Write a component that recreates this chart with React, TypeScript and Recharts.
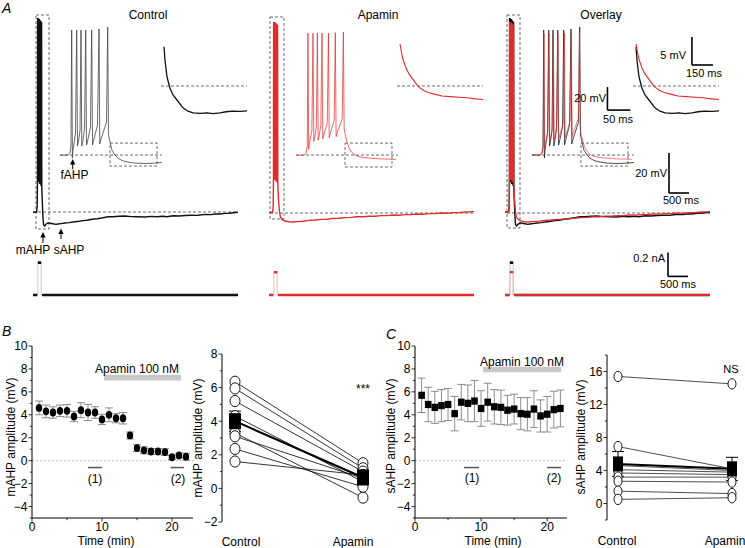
import React from 'react';
import {
  LineChart, Line, XAxis, YAxis, ReferenceLine, ReferenceArea, ReferenceDot,
  ScatterChart, Scatter, ErrorBar,
} from 'recharts';

type Pt = [number, number];

const FONT = "'Liberation Sans', Arial, Helvetica, sans-serif";
const RED = '#e32b2b';
const INK = '#111';
const DASH = '#444';

// ---------------- Panel A data (time in ms, membrane potential in mV) ----------------
const columnTitles = ['Control', 'Apamin', 'Overlay'];

const controlMainTrace: Pt[] = [
  [0, -65], [40, -65.2], [90, -65], [105, -62], [112, -48], [115, 32], [120, -50], [127, -46], [130, 32],
  [135, -50], [142, -46], [145, 31.5], [150, -50], [157, -45], [160, 31.5], [165, -51], [172, -45], [175, 31],
  [180, -51], [190, -44], [195, 30.5], [200, -52], [210, -43], [215, 30], [220, -53], [235, -61], [250, -68],
  [265, -71.5], [290, -72], [330, -71], [380, -70.4], [425, -70.65], [500, -70.9], [570, -71.2], [625, -71],
  [700, -70.8], [800, -70.5], [900, -70.3], [1050, -69.85], [1150, -69.6], [1250, -69.3], [1350, -69.1],
  [1475, -68.65], [1600, -68.4], [1750, -67.9], [1875, -67.35], [2000, -67.4], [2150, -67.1], [2300, -67],
  [2450, -67.3], [2600, -67.4], [2800, -67.5], [2950, -67.2], [3100, -67.4], [3250, -67.1], [3350, -67.35],
  [3500, -66.9], [3650, -67], [3800, -66.75], [3950, -66.6], [4100, -66.7], [4175, -66.5], [4300, -66.2],
  [4450, -66.3], [4550, -66], [4675, -66], [4800, -65.7], [4900, -65.6], [5000, -65.4], [5125, -65.15],
];

const apaminMainTrace: Pt[] = [
  [0, -65.3], [40, -65.1], [90, -65.2], [105, -62], [112, -48], [115, 30], [120, -49], [127, -45], [130, 30],
  [135, -49], [142, -45], [145, 30], [150, -49], [157, -44], [160, 29.5], [165, -49], [172, -44], [175, 29.5],
  [180, -50], [190, -43], [195, 29], [200, -50], [210, -42], [215, 28.5], [220, -50], [235, -58], [260, -64.5],
  [285, -67.5], [330, -68.8], [400, -69.5], [500, -69.9], [600, -70], [700, -69.8], [850, -69.6], [1000, -69.2],
  [1150, -69], [1300, -68.7], [1450, -68.6], [1600, -68.2], [1750, -68.1], [1900, -67.8], [2050, -67.7],
  [2200, -67.4], [2350, -67.4], [2500, -67.1], [2650, -67.1], [2800, -66.8], [2950, -66.8], [3100, -66.5],
  [3250, -66.6], [3400, -66.3], [3550, -66.3], [3700, -66], [3850, -66.1], [4000, -65.8], [4150, -65.8],
  [4300, -65.5], [4450, -65.6], [4600, -65.3], [4750, -65.3], [4900, -65], [5050, -64.9], [5125, -64.8],
];

const controlInsetTrace: Pt[] = [
  [0, -65], [17.4, -65], [21.7, -63.3], [23.9, -57.2], [25.4, 43.7], [27, -67.6], [28.3, -60.7], [33.7, -45.9],
  [36.3, 43.7], [38, -57.2], [39.6, -54.6], [43.5, -44.1], [45.7, 43.7], [47.4, -57.2], [48.9, -54.6],
  [53.3, -42.4], [55.9, 43.7], [57.6, -56.3], [59.1, -54.6], [66.3, -40.7], [68.9, 43.7], [70.7, -56.3],
  [72.2, -53.7], [81.5, -38.9], [84.8, 44.6], [86.5, -55.4], [88, -52.8], [101.1, -36.3], [103.7, 46.3],
  [105.4, -47.6], [108.7, -53.7], [113, -60.7], [119.6, -65], [126.1, -67.6], [134.8, -69.8], [147.8, -71.1],
  [163, -72], [184.8, -72.4], [206.5, -72], [221.7, -71.5],
];

const apaminInsetTrace: Pt[] = [
  [0, -65], [17, -65.2], [22, -63.5], [24.5, -57], [26, 41], [27.6, -60], [29, -55], [34.5, -44], [37, 41],
  [38.7, -53], [40.3, -50.5], [44.2, -41], [46.5, 41], [48.2, -52], [49.7, -49.5], [54, -39], [56.5, 41],
  [58.2, -51], [59.7, -48.5], [68, -37], [70.5, 41], [72.2, -50], [73.7, -47.5], [83, -35], [85.5, 41.5],
  [87.2, -49], [88.7, -46.5], [100.5, -33.5], [103, 42], [104.7, -42], [107, -47], [111, -54], [116, -59.5],
  [122, -63], [130, -65.5], [142, -66.8], [158, -67.6], [178, -68.2], [200, -68.5], [217, -68.8],
];

const controlZoomTrace: Pt[] = [
  [21.4, -58], [28.6, -60.4], [42.9, -63.4], [64.3, -65.4], [85.7, -66.6], [114, -67.5], [157, -68.9],
  [193, -69.5], [229, -69.8], [279, -69.9], [329, -69.8], [371, -69.95], [421, -69.8], [464, -69.6],
  [514, -69.5], [564, -69.55], [614, -69.45],
];

const apaminZoomTrace: Pt[] = [
  [21.4, -57.5], [40, -60], [64, -61.8], [85, -62.8], [107, -63.6], [130, -64.4], [157, -65.2], [190, -65.8],
  [229, -66.2], [275, -66.5], [321, -66.8], [380, -66.9], [443, -67.0], [500, -67.1], [560, -67.3], [614, -67.4],
];

// injected current step (nA)
const controlStepAmp = 0.27;
const apaminStepAmp = 0.19;
const stepOnMs = 122;
const stepOffMs = 205;
const traceEndMs = 5125;
const restMv = -65;

// scale bars
const scaleMainMv = 20, scaleMainMs = 500;
const scaleInsetMv = 20, scaleInsetMs = 50;
const scaleZoomMv = 5, scaleZoomMs = 150;
const scaleCurrentNa = 0.2, scaleCurrentMs = 500;

// ---------------- Panel B / C data ----------------
const timeMin = [1, 2, 3, 4, 5, 6, 7, 8, 9, 10, 11, 12, 13, 14, 15, 16, 17, 18, 19, 20, 21, 22];
const mahpMean = [4.6, 4.3, 4.2, 4.35, 4.35, 3.85, 4.4, 4.2, 4.2, 3.6, 4.0, 3.7, 3.7, 2.2, 1.1, 0.9, 0.8, 0.8, 0.75, 0.3, 0.45, 0.35];
const mahpSem = [0.6, 0.55, 0.5, 0.5, 0.55, 0.45, 0.65, 0.7, 0.5, 0.45, 0.6, 0.4, 0.5, 0.3, 0.3, 0.3, 0.25, 0.25, 0.3, 0.2, 0.2, 0.3];
const sahpMean = [5.7, 4.9, 4.65, 4.8, 4.9, 4.1, 5.1, 5.0, 5.2, 4.55, 5.1, 4.7, 4.65, 4.4, 4.5, 4.1, 4.05, 4.5, 3.9, 4.05, 4.45, 4.55];
const sahpSem = [1.5, 1.5, 1.4, 1.4, 1.4, 1.5, 1.55, 1.6, 1.8, 1.55, 1.65, 1.5, 1.5, 1.3, 1.3, 1.4, 1.45, 1.6, 1.4, 1.55, 1.6, 1.6];

const conditionLabels = ['Control', 'Apamin'];
const mahpControl = [6.35, 5.95, 5.2, 4.3, 3.3, 3.1, 2.35, 1.6];
const mahpApamin = [1.5, 1.2, 1.0, 0.4, -0.55, 0.6, 0.1, 0.8];
const mahpPairMean = [4.0, 0.65];
const mahpPairSem = [0.6, 0.3];
const sahpControl = [15.4, 6.9, 4.6, 4.1, 3.7, 3.2, 2.7, 1.5, 0.5];
const sahpApamin = [14.5, 4.2, 4.0, 3.8, 3.5, 3.2, 2.6, 1.2, 0.7];
const sahpPairMean = [4.8, 4.2];
const sahpPairSem = [1.5, 1.4];

const apaminWindowB = [10.3, 21.3];
const apaminWindowC = [10.3, 22.1];
const epochOneB = [8, 10], epochTwoB = [19.8, 21.7];
const epochOneC = [7.4, 9.7], epochTwoC = [20, 22.1];

// ---------------- helpers ----------------
const toPts = (a: Pt[]) => a.map(([t, v]) => ({ t, v }));
const fmt = (v: number) => (v < 0 ? '\u2212' + Math.abs(v) : String(v));

function Txt({ x, y, children, anchor = 'middle', size = 12, italic = false, rotate = false }: any) {
  const tx = anchor === 'middle' ? '-50%' : anchor === 'end' ? '-100%' : '0';
  return (
    <div style={{
      position: 'absolute', left: x, top: y, transform: `translate(${tx}, -50%)${rotate ? ' rotate(-90deg)' : ''}`,
      fontSize: size, fontFamily: FONT, fontStyle: italic ? 'italic' : 'normal', whiteSpace: 'nowrap', lineHeight: 1, color: '#000',
    }}>{children}</div>
  );
}

function TraceBox({ left, top, width, height, x, y, children }: any) {
  return (
    <div style={{ position: 'absolute', left, top, width, height }}>
      <LineChart width={width} height={height} margin={{ top: 0, right: 0, bottom: 0, left: 0 }}>
        <XAxis type="number" dataKey="t" domain={x} hide allowDataOverflow />
        <YAxis type="number" dataKey="v" domain={y} hide allowDataOverflow />
        {children}
      </LineChart>
    </div>
  );
}

const ArrowHead = (p: any) => (
  <path d={`M${p.cx} ${p.cy} L${p.cx - 2.6} ${p.cy + 5.5} L${p.cx + 2.6} ${p.cy + 5.5} Z`} fill="#000" />
);

const lineProps = { dot: false, isAnimationActive: false, type: 'linear' as const, activeDot: false };
const dashProps = { stroke: DASH, strokeDasharray: '3 2', strokeWidth: 0.8 };
const barProps = { stroke: '#000', strokeWidth: 1.6 };

function currentThin(amp: number) {
  return [
    { t: 0, v: 0 }, { t: stepOnMs, v: 0 }, { t: stepOnMs, v: amp }, { t: stepOffMs, v: amp },
    { t: stepOffMs, v: 0 }, { t: traceEndMs, v: 0 },
  ];
}
function currentThick(amp: number) {
  return [
    { t: 0, v: 0 }, { t: stepOnMs - 12, v: 0 }, { t: stepOnMs - 6, v: null }, { t: stepOnMs, v: amp },
    { t: stepOffMs, v: amp }, { t: stepOffMs + 6, v: null }, { t: stepOffMs + 20, v: 0 }, { t: traceEndMs, v: 0 },
  ];
}

const columns = [
  { dx: 0, c: true, a: false, mainBox: [75, 400, -73.5, 33.5], inBox: [108.7, 210.9, -74.6, -54.6], base: [0, 5125, -65] },
  { dx: 236, c: false, a: true, mainBox: [25, 375, -68.5, 32.5], inBox: [106.5, 208.7, -75.4, -54.6], base: [25, 5150, -65.5] },
  { dx: 472, c: true, a: true, mainBox: [50, 375, -73, 33.5], inBox: [106.5, 208.7, -74.6, -54.6], base: [50, 5125, -65.5] },
];

function AColumn({ col, idx }: any) {
  const { dx, c, a, mainBox, inBox, base } = col;
  const ov = idx === 2;
  const isCtrl = idx === 0;
  return (
    <>
      {/* main trace */}
      <TraceBox left={33 + dx} top={8} width={210} height={237} x={[0, 5250]} y={[-81.5, 37]}>
        <ReferenceLine segment={[{ x: base[0], y: base[2] }, { x: base[1], y: base[2] }]} {...dashProps} />
        <ReferenceArea x1={mainBox[0]} x2={mainBox[1]} y1={mainBox[2]} y2={mainBox[3]} fill="none" fillOpacity={0} {...dashProps} />
        {c && <Line data={toPts(controlMainTrace)} dataKey="v" stroke={INK} strokeWidth={1.4} {...lineProps} />}
        {a && <Line data={toPts(apaminMainTrace)} dataKey="v" stroke={RED} strokeWidth={ov ? 1.3 : 1.4} {...lineProps} />}
        {isCtrl && <ReferenceLine segment={[{ x: 250, y: -77 }, { x: 250, y: -80.5 }]} stroke="#000" strokeWidth={1} />}
        {isCtrl && <ReferenceDot x={250} y={-75} r={3} shape={ArrowHead} />}
        {isCtrl && <ReferenceLine segment={[{ x: 700, y: -75.5 }, { x: 700, y: -78.5 }]} stroke="#000" strokeWidth={1} />}
        {isCtrl && <ReferenceDot x={700} y={-73.2} r={3} shape={ArrowHead} />}
        {ov && <ReferenceLine segment={[{ x: 4100, y: -55.5 }, { x: 4100, y: -55.5 + scaleMainMv }]} {...barProps} />}
        {ov && <ReferenceLine segment={[{ x: 4100, y: -55.5 }, { x: 4100 + scaleMainMs, y: -55.5 }]} {...barProps} />}
      </TraceBox>

      {/* current */}
      <TraceBox left={33 + dx} top={246.5} width={210} height={54} x={[0, 5250]} y={[-0.05, 0.4]}>
        {c && <Line data={currentThin(controlStepAmp)} dataKey="v" stroke="#bbb" strokeWidth={0.8} {...lineProps} />}
        {a && <Line data={currentThin(apaminStepAmp)} dataKey="v" stroke="#f2a6a6" strokeWidth={0.8} {...lineProps} />}
        {c && <Line data={currentThick(controlStepAmp)} dataKey="v" stroke={INK} strokeWidth={2.6} {...lineProps} />}
        {a && <Line data={currentThick(apaminStepAmp)} dataKey="v" stroke={RED} strokeWidth={ov ? 2.2 : 2.6} {...lineProps} />}
        {ov && <ReferenceLine segment={[{ x: 4075, y: 0.155 }, { x: 4075, y: 0.155 + scaleCurrentNa }]} {...barProps} />}
        {ov && <ReferenceLine segment={[{ x: 4075, y: 0.155 }, { x: 4075 + scaleCurrentMs, y: 0.155 }]} {...barProps} />}
      </TraceBox>

      {/* inset: spike train */}
      <TraceBox left={60 + dx} top={25} width={104} height={145} x={[0, 226.1]} y={[-78, 48.1]}>
        <ReferenceLine segment={[{ x: 0, y: restMv }, { x: 221.7, y: restMv }]} {...dashProps} />
        <ReferenceArea x1={inBox[0]} x2={inBox[1]} y1={inBox[2]} y2={inBox[3]} fill="none" fillOpacity={0} {...dashProps} />
        {c && <Line data={toPts(controlInsetTrace)} dataKey="v" stroke={ov ? '#222' : '#444'} strokeWidth={0.8} {...lineProps} />}
        {a && <Line data={toPts(apaminInsetTrace)} dataKey="v" stroke={RED} strokeOpacity={ov ? 0.75 : 0.9} strokeWidth={0.8} {...lineProps} />}
        {isCtrl && <ReferenceLine segment={[{ x: 27.6, y: -72.5 }, { x: 27.6, y: -77.2 }]} stroke="#000" strokeWidth={1} />}
        {isCtrl && <ReferenceDot x={27.6} y={-68.5} r={3} shape={ArrowHead} />}
        {ov && <ReferenceLine segment={[{ x: 164, y: -25.9 }, { x: 164, y: -25.9 + scaleInsetMv }]} {...barProps} />}
        {ov && <ReferenceLine segment={[{ x: 164, y: -25.9 }, { x: 164 + scaleInsetMs, y: -25.9 }]} {...barProps} />}
      </TraceBox>

      {/* inset: zoom on AHP */}
      <TraceBox left={161 + dx} top={30} width={88} height={95.2} x={[0, 628.57]} y={[-72, -55]}>
        <ReferenceLine segment={[{ x: 0, y: restMv }, { x: 614, y: restMv }]} {...dashProps} />
        {c && <Line data={toPts(controlZoomTrace)} dataKey="v" stroke={INK} strokeWidth={1.3} {...lineProps} />}
        {a && <Line data={toPts(apaminZoomTrace)} dataKey="v" stroke={RED} strokeWidth={1.1} {...lineProps} />}
        {ov && <ReferenceLine segment={[{ x: 421, y: -61.25 }, { x: 421, y: -61.25 + scaleZoomMv }]} {...barProps} />}
        {ov && <ReferenceLine segment={[{ x: 421, y: -61.25 }, { x: 421 + scaleZoomMs, y: -61.25 }]} {...barProps} />}
      </TraceBox>
    </>
  );
}

function YTick(props: any) {
  const { x, y, payload, majorEvery } = props;
  const v = payload.value;
  const major = Math.abs(v % majorEvery) < 1e-9;
  return (
    <g>
      <line x1={x - (major ? 3.5 : 2.2)} x2={x} y1={y} y2={y} stroke="#000" strokeWidth={0.8} />
      {major && (
        <text x={x - 4.5} y={y} dy="0.36em" textAnchor="end" fontSize={12} fontFamily={FONT} fill="#000">{fmt(v)}</text>
      )}
    </g>
  );
}

function XTick(props: any) {
  const { x, y, payload } = props;
  const v = payload.value;
  const major = v % 10 === 0;
  return (
    <g>
      <line x1={x} x2={x} y1={y} y2={y + (major ? 3.5 : 2.2)} stroke="#000" strokeWidth={0.8} />
      {major && (
        <text x={x} y={y + 13} textAnchor="middle" fontSize={12} fontFamily={FONT} fill="#000">{v}</text>
      )}
    </g>
  );
}

function CondTick(props: any) {
  const { x, y, payload, shifts, gap } = props;
  const i = payload.value - 1;
  return (
    <text x={x + shifts[i]} y={y + gap} textAnchor="middle" fontSize={12} fontFamily={FONT} fill="#000">
      {conditionLabels[i]}
    </text>
  );
}

const Empty = () => <g />;

function TimeCourse({ left, top, mean, sem, square, win, winY, one, two }: any) {
  const data = timeMin.map((t, i) => ({ t, m: mean[i], e: sem[i] }));
  const shape = (p: any) =>
    square ? (
      <rect x={p.cx - 3.3} y={p.cy - 3.6} width={6.6} height={7.2} fill="#000" />
    ) : (
      <ellipse cx={p.cx} cy={p.cy} rx={3.2} ry={3.9} fill="#000" />
    );
  const plotW = square ? 152 : 161;
  return (
    <div style={{ position: 'absolute', left, top }}>
      <ScatterChart width={32 + plotW + 4} height={10 + 172 + 30} margin={{ top: 10, right: 4, bottom: 0, left: 0 }}>
        <XAxis type="number" dataKey="t" domain={[0, 23]} ticks={[0, 5, 10, 15, 20]} interval={0} height={30}
          tickSize={0} tickMargin={0} tickLine={false} axisLine={{ stroke: '#000', strokeWidth: 1 }}
          tick={(p: any) => <XTick {...p} />} allowDataOverflow />
        <YAxis type="number" dataKey="m" domain={[-5, 10]} ticks={[-5, -4, -3, -2, -1, 0, 1, 2, 3, 4, 5, 6, 7, 8, 9, 10]}
          interval={0} width={32} tickSize={0} tickMargin={0} tickLine={false} axisLine={{ stroke: '#000', strokeWidth: 1 }}
          tick={(p: any) => <YTick {...p} majorEvery={2} />} allowDataOverflow />
        <ReferenceLine y={0} stroke="#aaa" strokeDasharray="2 2" strokeWidth={0.8} />
        <ReferenceArea x1={win[0]} x2={win[1]} y1={winY[0]} y2={winY[1]} fill="#c8c8c8" fillOpacity={1} stroke="none" />
        <ReferenceLine segment={[{ x: one[0], y: -0.6 }, { x: one[1], y: -0.6 }]} stroke="#555" strokeWidth={1.5} />
        <ReferenceLine segment={[{ x: two[0], y: -0.6 }, { x: two[1], y: -0.6 }]} stroke="#555" strokeWidth={1.5} />
        <Scatter data={data} shape={shape} isAnimationActive={false}>
          <ErrorBar dataKey="e" direction="y" width={4} stroke="#808080" strokeWidth={0.9} />
        </Scatter>
      </ScatterChart>
    </div>
  );
}

function PairChart({ left, top, plotW, plotH, yDomain, yTicks, majorEvery, xDomain, control, apamin, pm, ps, rx, ry, sqW, sqH, shifts, gap, lineColor }: any) {
  const pairs = control.map((cv: number, i: number) => [{ x: 1, y: cv }, { x: 2, y: apamin[i] }]);
  const meanData = pm.map((m: number, i: number) => ({ x: i + 1, y: m, e: ps[i] }));
  const hollow = (p: any) => <ellipse cx={p.cx} cy={p.cy} rx={rx} ry={ry} fill="#fff" stroke="#000" strokeWidth={0.9} />;
  const sq = (p: any) => <rect x={p.cx - sqW / 2} y={p.cy - sqH / 2} width={sqW} height={sqH} fill="#000" />;
  return (
    <div style={{ position: 'absolute', left, top }}>
      <ScatterChart width={32 + plotW + 2} height={10 + plotH + 30} margin={{ top: 10, right: 2, bottom: 0, left: 0 }}>
        <XAxis type="number" dataKey="x" domain={xDomain} ticks={[1, 2]} interval={0} height={30} axisLine={false}
          tickLine={false} tickSize={0} tickMargin={0} tick={(p: any) => <CondTick {...p} shifts={shifts} gap={gap} />} allowDataOverflow />
        <YAxis type="number" dataKey="y" domain={yDomain} ticks={yTicks} interval={0} width={32} tickSize={0} tickMargin={0}
          tickLine={false} axisLine={{ stroke: '#000', strokeWidth: 1 }}
          tick={(p: any) => <YTick {...p} majorEvery={majorEvery} />} allowDataOverflow />
        {pairs.map((d: any, i: number) => (
          <Scatter key={'pair' + i} data={d} line={{ stroke: lineColor, strokeWidth: 0.8 }} shape={Empty} isAnimationActive={false} />
        ))}
        <Scatter data={meanData} line={{ stroke: '#000', strokeWidth: 2 }} shape={Empty} isAnimationActive={false} />
        <Scatter data={control.map((v: number) => ({ x: 1, y: v }))} shape={hollow} isAnimationActive={false} />
        <Scatter data={apamin.map((v: number) => ({ x: 2, y: v }))} shape={hollow} isAnimationActive={false} />
        <Scatter data={meanData} shape={sq} isAnimationActive={false}>
          <ErrorBar dataKey="e" direction="y" width={6} stroke="#000" strokeWidth={1} />
        </Scatter>
      </ScatterChart>
    </div>
  );
}

export default function App() {
  return (
    <div style={{ position: 'absolute', left: 0, top: 0, width: 745, height: 548, background: '#fff', overflow: 'hidden', fontFamily: FONT }}>
      {/* Panel A */}
      <Txt x={2} y={8} anchor="start" size={14} italic>A</Txt>
      {columns.map((col, i) => <AColumn key={i} col={col} idx={i} />)}
      <Txt x={148} y={15}>{columnTitles[0]}</Txt>
      <Txt x={378} y={15}>{columnTitles[1]}</Txt>
      <Txt x={601} y={15}>{columnTitles[2]}</Txt>
      <Txt x={74.5} y={175}>fAHP</Txt>
      <Txt x={33} y={250}>mAHP</Txt>
      <Txt x={69} y={250}>sAHP</Txt>
      <Txt x={686} y={55} anchor="end" size={11}>{scaleZoomMv} mV</Txt>
      <Txt x={704} y={73} size={11}>{scaleZoomMs} ms</Txt>
      <Txt x={606} y={98} anchor="end" size={11}>{scaleInsetMv} mV</Txt>
      <Txt x={618} y={119} size={11}>{scaleInsetMs} ms</Txt>
      <Txt x={667} y={173} anchor="end" size={11}>{scaleMainMv} mV</Txt>
      <Txt x={681} y={200} size={11}>{scaleMainMs} ms</Txt>
      <Txt x={665} y={258} anchor="end" size={11}>{scaleCurrentNa} nA</Txt>
      <Txt x={678} y={284} size={11}>{scaleCurrentMs} ms</Txt>

      {/* Panel B */}
      <Txt x={2} y={331} anchor="start" size={14} italic>B</Txt>
      <TimeCourse left={0} top={336} mean={mahpMean} sem={mahpSem} square={false}
        win={apaminWindowB} winY={[7.0, 7.5]} one={epochOneB} two={epochTwoB} />
      <Txt x={137} y={369}>Apamin 100 nM</Txt>
      <Txt x={95} y={479}>(1)</Txt>
      <Txt x={178} y={479}>(2)</Txt>
      <Txt x={106} y={541}>Time (min)</Txt>
      <Txt x={11} y={437} rotate>mAHP amplitude (mV)</Txt>
      <PairChart left={190} top={344} plotW={155} plotH={168} yDomain={[-2, 8]}
        yTicks={[-2, -1, 0, 1, 2, 3, 4, 5, 6, 7, 8]} majorEvery={2} xDomain={[0.8984, 2.1094]}
        control={mahpControl} apamin={mahpApamin} pm={mahpPairMean} ps={mahpPairSem}
        rx={5} ry={5.6} sqW={12} sqH={16} shifts={[6, -10]} gap={24} lineColor="#000" />
      <Txt x={198} y={438} rotate>mAHP amplitude (mV)</Txt>
      <Txt x={363} y={389}>***</Txt>

      {/* Panel C */}
      <Txt x={386} y={334} anchor="start" size={14} italic>C</Txt>
      <TimeCourse left={383} top={336} mean={sahpMean} sem={sahpSem} square
        win={apaminWindowC} winY={[7.7, 8.2]} one={epochOneC} two={epochTwoC} />
      <Txt x={522} y={362}>Apamin 100 nM</Txt>
      <Txt x={472} y={478}>(1)</Txt>
      <Txt x={554} y={478}>(2)</Txt>
      <Txt x={493} y={541}>Time (min)</Txt>
      <Txt x={391} y={436} rotate>sAHP amplitude (mV)</Txt>
      <PairChart left={575} top={345} plotW={136} plotH={165} yDomain={[-2, 18]}
        yTicks={[-2, 0, 2, 4, 6, 8, 10, 12, 14, 16, 18]} majorEvery={4} xDomain={[0.9035, 2.0965]}
        control={sahpControl} apamin={sahpApamin} pm={sahpPairMean} ps={sahpPairSem}
        rx={4} ry={5.2} sqW={10} sqH={15} shifts={[-1, -7]} gap={25} lineColor="#222" />
      <Txt x={581} y={437} rotate>sAHP amplitude (mV)</Txt>
      <Txt x={731} y={369} size={11}>NS</Txt>
    </div>
  );
}
